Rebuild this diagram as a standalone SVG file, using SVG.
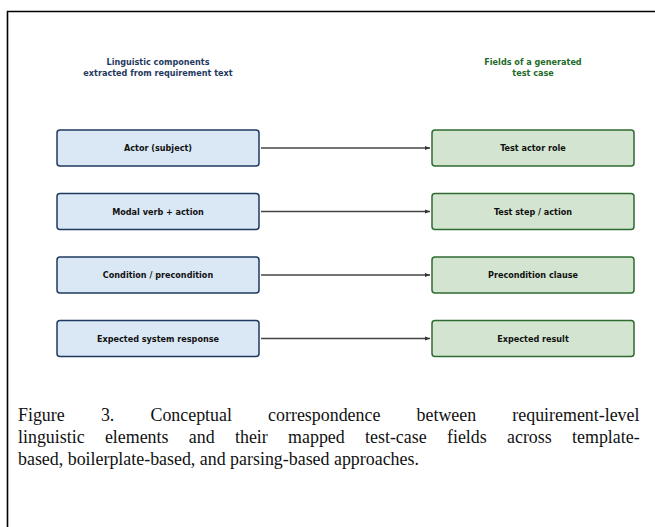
<svg xmlns="http://www.w3.org/2000/svg" width="655" height="527" viewBox="0 0 655 527">
<defs>
<style>
.lbl{font-family:"DejaVu Sans Condensed","DejaVu Sans",sans-serif;font-stretch:condensed;font-weight:bold;font-size:9px;fill:#111;text-anchor:middle}
.hdr{font-family:"DejaVu Sans Condensed","DejaVu Sans",sans-serif;font-stretch:condensed;font-weight:bold;font-size:9px;text-anchor:middle}
.src{fill:#dae8f5;stroke:#1f3a5f;stroke-width:1.5}
.dst{fill:#d3e5d0;stroke:#2e6b30;stroke-width:1.5}
.con{stroke:#444;stroke-width:1.3;fill:none;marker-end:url(#ah)}
.cap{font-family:"Liberation Serif","Times New Roman",serif;font-size:17.9px;fill:#111}
</style>
<marker id="ah" viewBox="0 0 10 10" refX="10" refY="5" markerWidth="5" markerHeight="5" orient="auto" markerUnits="userSpaceOnUse">
<path d="M0,1 L10,5 L0,9 Z" fill="#333"/>
</marker>
</defs>
<rect width="655" height="527" fill="#fff"/>
<path d="M7.5,527 V11.5 H655" fill="none" stroke="#000" stroke-width="1.6"/>

<g id="headers">
<text class="hdr" x="158" y="65" fill="#1f3a5f">Linguistic components</text>
<text class="hdr" x="158" y="76" fill="#1f3a5f">extracted from requirement text</text>
<text class="hdr" x="533" y="65" fill="#1e6b2a">Fields of a generated</text>
<text class="hdr" x="533" y="76" fill="#1e6b2a">test case</text>
</g>

<g id="connectors">
<line class="con" x1="261" y1="148" x2="430" y2="148"/>
<line class="con" x1="261" y1="211.5" x2="430" y2="211.5"/>
<line class="con" x1="261" y1="275" x2="430" y2="275"/>
<line class="con" x1="261" y1="338.5" x2="430" y2="338.5"/>
</g>

<g id="src-actor"><rect class="src" x="57" y="130" width="202" height="36" rx="3"/><text class="lbl" x="158" y="151">Actor (subject)</text></g>
<g id="src-modal"><rect class="src" x="57" y="193.5" width="202" height="36" rx="3"/><text class="lbl" x="158" y="214.5">Modal verb + action</text></g>
<g id="src-condition"><rect class="src" x="57" y="257" width="202" height="36" rx="3"/><text class="lbl" x="158" y="278">Condition / precondition</text></g>
<g id="src-response"><rect class="src" x="57" y="320.5" width="202" height="36" rx="3"/><text class="lbl" x="158" y="341.5">Expected system response</text></g>

<g id="dst-actor"><rect class="dst" x="432" y="130" width="202" height="36" rx="3"/><text class="lbl" x="533" y="151">Test actor role</text></g>
<g id="dst-step"><rect class="dst" x="432" y="193.5" width="202" height="36" rx="3"/><text class="lbl" x="533" y="214.5">Test step / action</text></g>
<g id="dst-precondition"><rect class="dst" x="432" y="257" width="202" height="36" rx="3"/><text class="lbl" x="533" y="278">Precondition clause</text></g>
<g id="dst-result"><rect class="dst" x="432" y="320.5" width="202" height="36" rx="3"/><text class="lbl" x="533" y="341.5">Expected result</text></g>

<g id="caption" class="cap">
<text x="18" y="421" word-spacing="31.7">Figure 3. Conceptual correspondence between requirement-level</text>
<text x="18" y="443" word-spacing="15.85">linguistic elements and their mapped test-case fields across template-</text>
<text x="18" y="465">based, boilerplate-based, and parsing-based approaches.</text>
</g>
</svg>
